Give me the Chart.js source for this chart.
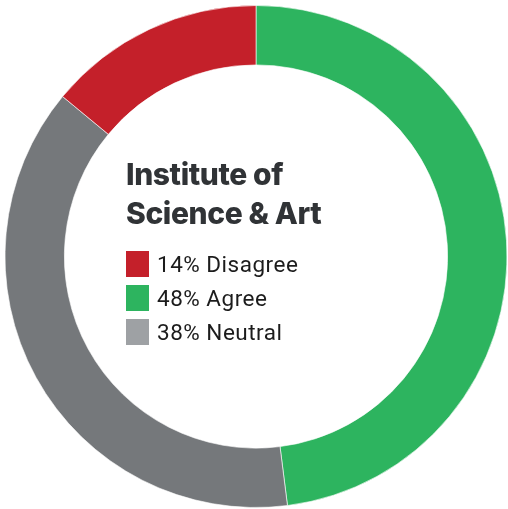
<!DOCTYPE html>
<html>
<head>
<meta charset="utf-8">
<script src="https://cdn.jsdelivr.net/npm/chart.js@4"></script>
<style>
    html, body { margin: 0; padding: 0; background: #fff; }
    #wrap { position: relative; width: 508px; height: 509px; }
    #title {
        position: absolute; left: 126px; top: 155px;
        font-family: Inter, sans-serif; font-weight: 800; font-size: 30px;
        line-height: 39px; color: #303336; letter-spacing: -0.4px;
    }
    #legend { position: absolute; left: 126px; top: 247px; }
    .item {
        display: flex; align-items: center; height: 34px;
        font-family: Roboto, sans-serif; font-size: 22.5px; color: #1c1c1c;
        letter-spacing: 0.5px;
    }
    .box { width: 23px; height: 26px; margin-right: 8px; box-sizing: border-box; }
</style>
</head>
<body>
<div id="wrap">
    <canvas id="donut_chart_id" width="508" height="509"></canvas>
    <div id="title">Institute of<br>Science &amp; Art</div>
    <div id="legend"></div>
</div>
<script>
// ring order (clockwise from 12 o'clock)
const ringLabels = ['Agree', 'Neutral', 'Disagree'];
const ringValues = [48, 38, 14];
const ringColors = ['#2db45f', '#75787b', '#c4202a'];

// legend order inside the hole
const legendLabels = ['Disagree', 'Agree', 'Neutral'];
const legendColors = ['#c4202a', '#2db45f', '#9ea1a4'];

const legendEl = document.getElementById('legend');
legendLabels.forEach((label, i) => {
    var value = ringValues[ringLabels.indexOf(label)];
    var row = document.createElement('div');
    row.className = 'item';
    var box = document.createElement('span');
    box.className = 'box';
    box.style.background = legendColors[i];
    row.appendChild(box);
    row.appendChild(document.createTextNode(`${value}% ${label}`));
    legendEl.appendChild(row);
});

const config = {
    type: 'doughnut',
    data: {
        labels: ringLabels,
        datasets: [{
            data: ringValues,
            backgroundColor: ringColors,
            borderColor: 'rgba(255,255,255,0.6)',
            borderWidth: 1,
        }],
    },
    options: {
        responsive: false,
        animation: false,
        radius: 251,
        cutout: 192,
        layout: { padding: { left: 4, top: 4, right: 0, bottom: 0 } },
        plugins: {
            legend: { display: false },
            tooltip: { enabled: false },
        },
    },
};

new Chart(document.getElementById('donut_chart_id'), config);
</script>
</body>
</html>
